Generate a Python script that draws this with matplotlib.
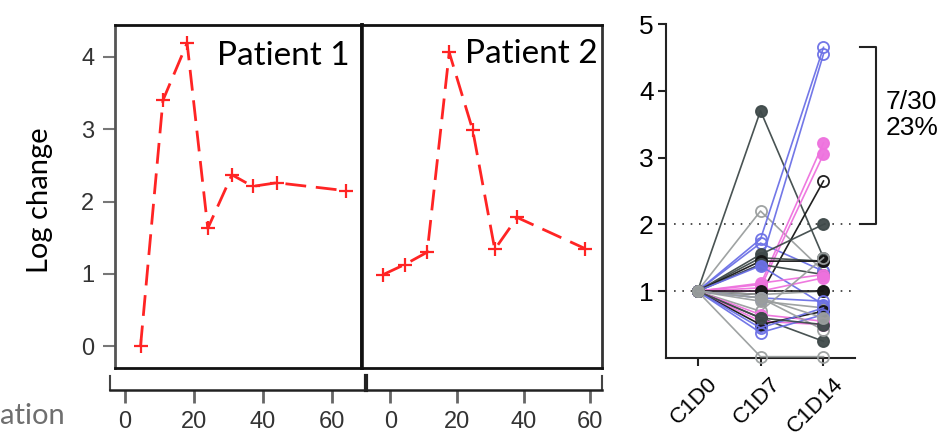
import matplotlib
matplotlib.use("Agg")
import matplotlib.pyplot as plt
import matplotlib.transforms as mtransforms

# ---------------- data ----------------
p1_days = [4.5, 11, 18, 24, 31, 37, 44, 64]
p1_vals = [0.0, 3.40, 4.19, 1.63, 2.37, 2.21, 2.26, 2.15]
p2_days = [0, 6.3, 12.8, 19.2, 26, 32.4, 38.9, 58.6]
p2_vals = [0.99, 1.13, 1.30, 4.06, 2.99, 1.34, 1.78, 1.35]
day_ticks = [0, 20, 40, 60]
log_ticks = [0, 1, 2, 3, 4]

timepoints = ["C1D0", "C1D7", "C1D14"]
# (color group, filled, C1D7, C1D14); all start at 1 at C1D0
grp = ["dg", "gy", "bl", "bl", "bl", "pk", "pk", "bk", "dg", "dg",
       "bk", "dg", "bl", "pk", "pk", "gy", "bk", "gy", "bl", "gy",
       "pk", "dg", "pk", "bk", "bl", "bl", "gy", "gy", "dg", "gy"]
filled = [1, 0, 0, 0, 0, 1, 1, 0, 1, 1,
          1, 1, 1, 1, 1, 1, 1, 1, 0, 0,
          1, 1, 1, 1, 0, 0, 0, 0, 1, 1]
d7 = [3.70, 2.20, 1.78, 1.72, 1.40, 1.10, 1.05, 0.95, 1.55, 1.50,
      1.45, 1.40, 1.38, 1.12, 1.00, 0.95, 1.00, 0.85, 0.90, 0.70,
      0.65, 0.60, 0.55, 0.50, 0.45, 0.38, 0.02, 0.90, 0.60, 0.90]
d14 = [1.50, 1.30, 4.65, 1.30, 4.55, 3.22, 3.05, 2.65, 2.00, 1.45,
       1.45, 1.25, 0.80, 1.25, 1.20, 1.00, 1.00, 0.75, 0.85, 1.50,
       0.55, 0.25, 0.50, 0.70, 0.75, 0.65, 0.02, 0.42, 0.50, 0.60]
right_ticks = [1, 2, 3, 4, 5]

colors = {"dg": "#3f4a4a", "gy": "#9a9e9e", "bl": "#6b70e6",
          "pk": "#ee72de", "bk": "#151515"}

W, H = 942, 438
fig = plt.figure(figsize=(W / 100, H / 100), dpi=100)

def rect(x0, y0, x1, y1):
    return [x0 / W, 1 - y1 / H, (x1 - x0) / W, (y1 - y0) / H]

tick_font = "Liberation Sans"
cal_font = "Lato"
red = "#ff2424"

# ---------------- Patient panels ----------------
ax1 = fig.add_axes(rect(115, 25, 362, 368))
ax2 = fig.add_axes(rect(362, 25, 602, 368))
ax1.set_xlim(-2.9, 68.7)
ax2.set_xlim(-6.1, 63.5)
for ax in (ax1, ax2):
    ax.set_ylim(-0.30, 4.44)
    for s in ax.spines.values():
        s.set_linewidth(2.0)
        s.set_color("#111111")
    ax.set_xticks([])
ax1.spines["left"].set_color("#555555")
ax1.spines["right"].set_linewidth(2.6)
ax2.spines["left"].set_linewidth(2.6)
ax2.spines["right"].set_color("#333333")
ax1.set_yticks(log_ticks)
ax1.tick_params(axis="y", length=9, width=1.5, color="#777777", pad=6,
                labelsize=17, labelcolor="#333333")
for lab in ax1.get_yticklabels():
    lab.set_fontfamily(tick_font)
ax2.set_yticks([])

kw = dict(color=red, lw=2.0, dashes=(7.5, 3.5), marker="+", ms=10, mew=1.6)
ax1.plot(p1_days, p1_vals, **kw)
ax2.plot(p2_days, p2_vals, **kw)

ax1.text(0.951, 0.883, "Patient 1", transform=ax1.transAxes, ha="right",
         va="baseline", fontsize=24, family=cal_font, color="black")
ax2.text(0.983, 0.889, "Patient 2", transform=ax2.transAxes, ha="right",
         va="baseline", fontsize=24, family=cal_font, color="black")

fig.text(40 / W, 1 - 200 / H, "Log change", rotation=90, ha="center",
         va="center", fontsize=21, family=cal_font, color="black")
fig.text(0, 1 - 416 / H, "ation", ha="left", va="center", fontsize=21,
         family=cal_font, color="#6f6f6f")

# separate day scales below the panels
b1 = fig.add_axes(rect(110, 376, 366, 390))
b2 = fig.add_axes(rect(366, 376, 602, 390))
b1.set_xlim(-2.9 - 5 / 3.445, 68.7 + 4 / 3.445)
b2.set_xlim(-6.1 - 4 / 3.445, 63.5)
for b in (b1, b2):
    b.patch.set_visible(False)
    b.set_yticks([])
    b.set_xticks(day_ticks)
    b.spines["top"].set_visible(False)
    b.spines["bottom"].set_linewidth(1.8)
    b.spines["bottom"].set_color("#222222")
    b.tick_params(axis="x", length=9, width=2, color="#666666", pad=6,
                  labelsize=17, labelcolor="#333333")
    for lab in b.get_xticklabels():
        lab.set_fontfamily(tick_font)
b1.spines["left"].set_linewidth(1.5)
b1.spines["left"].set_color("#444444")
b1.spines["right"].set_visible(False)
b2.spines["left"].set_linewidth(3)
b2.spines["left"].set_color("#222222")
b2.spines["right"].set_linewidth(1.5)
b2.spines["right"].set_color("#444444")

# ---------------- right panel ----------------
ax3 = fig.add_axes(rect(666, 24, 855, 358))
ax3.set_xlim(-0.5, 2.5)
ax3.set_ylim(0, 5)
ax3.spines["top"].set_visible(False)
ax3.spines["right"].set_visible(False)
for s in ("left", "bottom"):
    ax3.spines[s].set_linewidth(1.5)
    ax3.spines[s].set_color("#222222")
ax3.set_yticks(right_ticks)
ax3.set_xticks(range(len(timepoints)))
ax3.set_xticklabels(timepoints, rotation=45, ha="right", va="top",
                    rotation_mode="anchor")
ax3.tick_params(axis="y", length=6, width=1.5, labelsize=19, pad=3,
                color="#222222")
ax3.tick_params(axis="x", length=6, width=1.5, labelsize=16, pad=5,
                color="#222222")
for lab in ax3.get_xticklabels() + ax3.get_yticklabels():
    lab.set_fontfamily(tick_font)
offset = mtransforms.ScaledTranslation(9 / 100, 0, fig.dpi_scale_trans)
for lab in ax3.get_xticklabels():
    lab.set_transform(lab.get_transform() + offset)

for yv in (1, 2):
    ax3.axhline(yv, xmin=0.04, xmax=0.98, color="#333333", lw=1.2,
                ls=(0, (1, 4)), zorder=1)

for g, f, a, b in zip(grp, filled, d7, d14):
    c = colors[g]
    ax3.plot(range(3), [1.0, a, b], color=c, lw=1.2, marker="o", ms=8,
             mew=1.3, mfc=c if f else "none", mec=c, clip_on=False,
             zorder=3, alpha=0.95)

tr = mtransforms.blended_transform_factory(ax3.transAxes, ax3.transData)
xa = (860 - 666) / 189
xb = (876 - 666) / 189
ax3.plot([xa, xb, xb, xa], [4.66, 4.66, 2.0, 2.0], color="#222222", lw=1.5,
         transform=tr, clip_on=False)
ax3.text((886 - 666) / 189, 3.64, "7/30\n23%", transform=tr, ha="left",
         va="center", fontsize=19, family=tick_font, linespacing=1.1)

fig.savefig("out.png", dpi=100)
